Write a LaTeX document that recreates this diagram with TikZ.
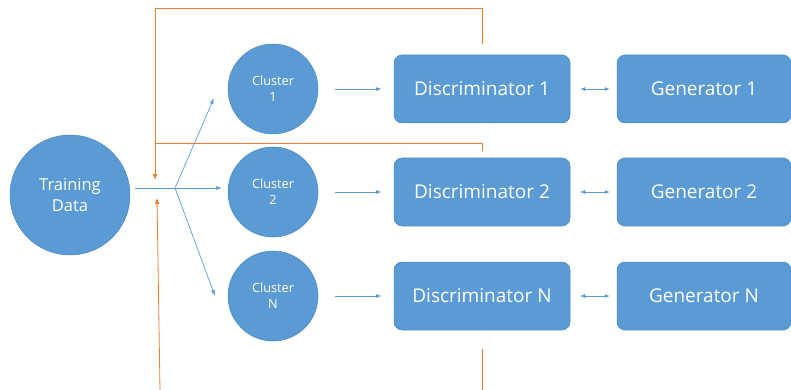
\documentclass[tikz,border=0pt]{standalone}
\usepackage{fontspec}
\setmainfont{Open Sans}
\usetikzlibrary{arrows.meta}
\definecolor{fillblue}{HTML}{5B9BD5}
\definecolor{edgeblue}{HTML}{4A86C0}
\definecolor{orng}{HTML}{ED7D31}
\tikzset{
  circ/.style={circle, fill=fillblue, draw=edgeblue, line width=0.5pt, text=white, inner sep=0pt, align=center},
  rbox/.style={rectangle, rounded corners=8pt, fill=fillblue, draw=edgeblue, line width=0.5pt, text=white, minimum width=176pt, minimum height=68pt, font=\fontsize{19}{22}\selectfont},
  conn/.style={draw=fillblue, line width=0.7pt, -{Latex[length=6pt,width=4pt]}},
  dconn/.style={draw=fillblue, line width=0.7pt, {Latex[length=5pt,width=4pt]}-{Latex[length=5pt,width=4pt]}},
  fb/.style={draw=orng, line width=0.8pt},
  fbarr/.style={draw=orng, line width=0.8pt, -{Latex[length=6pt,width=5pt]}}
}
\begin{document}
\begin{tikzpicture}[x=1pt,y=-1pt]
\useasboundingbox (0,0) rectangle (791,390);
% nodes
\node[circ, minimum size=120pt, font=\fontsize{16.5}{21}\selectfont] (td) at (70,195) {Training\\Data};
\node[circ, minimum size=90pt, font=\fontsize{12.7}{16}\selectfont] (c1) at (273,89) {Cluster\\1};
\node[circ, minimum size=90pt, font=\fontsize{12.7}{16}\selectfont] (c2) at (273,192) {Cluster\\2};
\node[circ, minimum size=90pt, font=\fontsize{12.7}{16}\selectfont] (cn) at (273,296) {Cluster\\N};
\node[rbox] (d1) at (482,89) {Discriminator 1};
\node[rbox] (d2) at (482,192) {Discriminator 2};
\node[rbox] (dn) at (482,296) {Discriminator N};
\node[rbox, minimum width=174pt] (g1) at (704,89) {Generator 1};
\node[rbox, minimum width=174pt] (g2) at (704,192) {Generator 2};
\node[rbox, minimum width=174pt] (gn) at (704,296) {Generator N};
% coordinates
\coordinate (tdout) at (135,188);
\coordinate (fork) at (175,188);
\coordinate (e1) at (214,98);
\coordinate (e2) at (222,188);
\coordinate (en) at (215,296);
% training data fan-out
\draw[draw=fillblue, line width=0.7pt] (tdout) -- (fork);
\draw[conn] (fork) -- (e1);
\draw[conn] (fork) -- (e2);
\draw[conn] (fork) -- (en);
% cluster to discriminator
\draw[conn, shorten <=17pt, shorten >=12pt] (c1.east) -- (d1.west);
\draw[conn, shorten <=17pt, shorten >=12pt] (c2.east) -- (d2.west);
\draw[conn, shorten <=17pt, shorten >=12pt] (cn.east) -- (dn.west);
% discriminator <-> generator
\draw[dconn, shorten <=10pt, shorten >=7pt] (d1.east) -- (g1.west);
\draw[dconn, shorten <=10pt, shorten >=7pt] (d2.east) -- (g2.west);
\draw[dconn, shorten <=10pt, shorten >=7pt] (dn.east) -- (gn.west);
% orange feedback
\coordinate (o1) at (482,44);
\coordinate (o1t) at (482,8);
\coordinate (oL) at (155,8);
\coordinate (oA) at (155,180);
\coordinate (o2) at (482,151);
\coordinate (o2t) at (482,143);
\coordinate (oJ) at (155,143);
\coordinate (ob) at (160,390);
\coordinate (obA) at (157,198);
\coordinate (o3) at (482,349);
\coordinate (o3b) at (482,390);
\draw[fbarr] (o1) -- (o1t) -- (oL) -- (oA);
\draw[fb] (o2) -- (o2t) -- (oJ);
\draw[fbarr] (ob) -- (obA);
\draw[fb] (o3) -- (o3b);
\end{tikzpicture}
\end{document}
